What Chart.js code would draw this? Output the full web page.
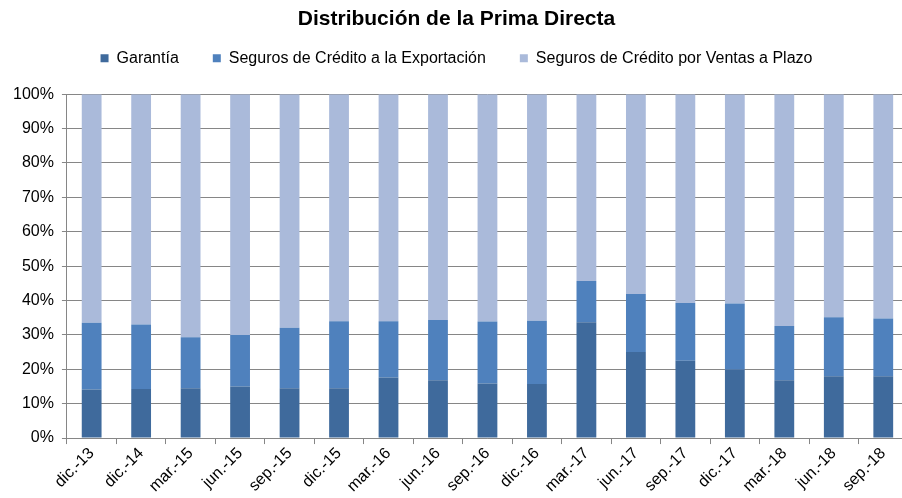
<!DOCTYPE html>
<html>
<head>
<meta charset="utf-8">
<script src="https://cdn.jsdelivr.net/npm/chart.js@4/dist/chart.umd.min.js"></script>
<style>
  html, body { margin: 0; padding: 0; background: #fff; overflow: hidden; }
  #wrap { width: 926px; height: 498px; }
</style>
</head>
<body>
<div id="wrap"><canvas id="primaChart" width="926" height="498"></canvas></div>
<script>
// Datos (porcentaje sobre la prima directa)
const periodos = ['dic.-13', 'dic.-14', 'mar.-15', 'jun.-15', 'sep.-15', 'dic.-15', 'mar.-16', 'jun.-16',
  'sep.-16', 'dic.-16', 'mar.-17', 'jun.-17', 'sep.-17', 'dic.-17', 'mar.-18', 'jun.-18', 'sep.-18'];
const garantia = [14.1, 14.3, 14.5, 15.0, 14.5, 14.5, 17.6, 16.8, 15.9, 15.7, 33.7, 25.0, 22.5, 19.9, 16.8, 18.0, 18.0];
const exportacion = [19.4, 18.7, 14.8, 15.0, 17.6, 19.5, 16.4, 17.5, 18.0, 18.4, 12.0, 16.9, 16.8, 19.2, 15.8, 17.1, 16.8];
const ventasPlazo = [66.5, 67.0, 70.7, 70.0, 67.9, 66.0, 66.0, 65.7, 66.1, 65.9, 54.3, 58.1, 60.7, 60.9, 67.4, 64.9, 65.2];
const yTicks = [0, 10, 20, 30, 40, 50, 60, 70, 80, 90, 100];

const fuente = '"Liberation Sans", sans-serif';
const gris = '#868686';

// Espacio extra bajo la leyenda (como en Excel)
const espacioLeyenda = {
    id: 'espacioLeyenda',
    beforeLayout: function(chart) {
        const legend = chart.legend;
        if (legend && !legend._ajustada) {
            const fitOriginal = legend.fit;
            legend.fit = function() {
                fitOriginal.call(this);
                this.height += 18;
            };
            legend._ajustada = true;
        }
    }
};

document.addEventListener('DOMContentLoaded', function() {
    const ctx = document.getElementById('primaChart').getContext('2d');

    new Chart(ctx, {
        type: 'bar',
        data: {
            labels: periodos,
            datasets: [
                { label: 'Garantía', data: garantia, backgroundColor: '#3F6A9C' },
                { label: 'Seguros de Crédito a la Exportación', data: exportacion, backgroundColor: '#4F81BD' },
                { label: 'Seguros de Crédito por Ventas a Plazo', data: ventasPlazo, backgroundColor: '#AABADA' }
            ]
        },
        plugins: [espacioLeyenda],
        options: {
            responsive: false,
            animation: false,
            datasets: {
                bar: { barPercentage: 0.4, categoryPercentage: 1.0 }
            },
            layout: { padding: { left: 5, right: 18, top: 1, bottom: 2 } },
            scales: {
                x: {
                    stacked: true,
                    grid: { offset: true, color: gris, drawOnChartArea: false, tickLength: 6 },
                    border: { color: gris },
                    ticks: {
                        color: '#000',
                        minRotation: 45,
                        maxRotation: 45,
                        autoSkip: false,
                        padding: 0,
                        font: { family: fuente, size: 16 }
                    }
                },
                y: {
                    stacked: true,
                    min: 0,
                    max: 100,
                    afterBuildTicks: function(axis) {
                        axis.ticks = yTicks.map(v => ({ value: v }));
                    },
                    grid: { color: gris, tickLength: 5 },
                    border: { color: gris },
                    ticks: {
                        color: '#000',
                        padding: 8,
                        font: { family: fuente, size: 16 },
                        callback: function(value) { return value + '%'; }
                    }
                }
            },
            plugins: {
                title: {
                    display: true,
                    text: 'Distribución de la Prima Directa',
                    color: '#000',
                    font: { family: fuente, size: 21, weight: 'bold' },
                    padding: { top: 6, bottom: -16 }
                },
                legend: {
                    position: 'top',
                    labels: {
                        color: '#000',
                        boxWidth: 8,
                        boxHeight: 8,
                        padding: 34,
                        font: { family: fuente, size: 16 }
                    }
                },
                tooltip: { enabled: false }
            }
        }
    });
});
</script>
</body>
</html>
